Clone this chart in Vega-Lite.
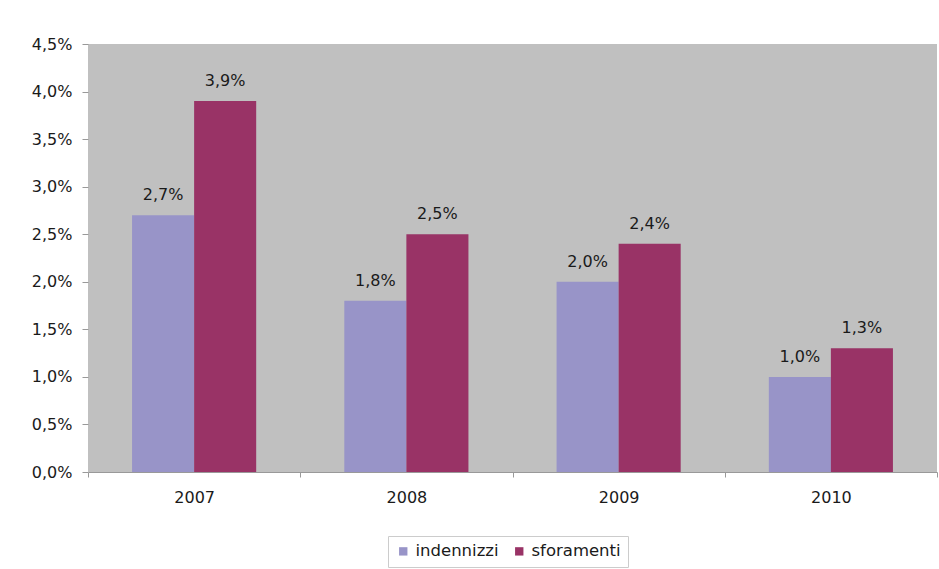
{
  "$schema": "https://vega.github.io/schema/vega-lite/v6.json",
  "autosize": "none",
  "width": 849,
  "height": 428,
  "padding": {"left": 88, "top": 44, "right": 2, "bottom": 97},
  "background": "white",
  "config": {
    "locale": {"number": {"decimal": ",", "thousands": ".", "grouping": [3], "currency": ["€", ""]}},
    "view": {"fill": "#c0c0c0", "stroke": null},
    "font": "DejaVu Sans"
  },
  "data": {
    "values": [
      {"anno": "2007", "serie": "indennizzi", "valore": 0.027},
      {"anno": "2007", "serie": "sforamenti", "valore": 0.039},
      {"anno": "2008", "serie": "indennizzi", "valore": 0.018},
      {"anno": "2008", "serie": "sforamenti", "valore": 0.025},
      {"anno": "2009", "serie": "indennizzi", "valore": 0.020},
      {"anno": "2009", "serie": "sforamenti", "valore": 0.024},
      {"anno": "2010", "serie": "indennizzi", "valore": 0.010},
      {"anno": "2010", "serie": "sforamenti", "valore": 0.013}
    ]
  },
  "encoding": {
    "x": {
      "field": "anno", "type": "nominal",
      "scale": {"paddingInner": 0, "paddingOuter": 0},
      "axis": {
        "title": null, "labelAngle": 0, "labelFontSize": 16, "labelColor": "#1a1a1a",
        "labelPadding": 12, "tickBand": "extent", "tickColor": "#999", "tickSize": 5,
        "domainColor": "#999", "domainWidth": 1
      }
    },
    "xOffset": {
      "field": "serie", "type": "nominal",
      "scale": {"paddingInner": 0, "paddingOuter": 0.71}
    },
    "y": {
      "field": "valore", "type": "quantitative",
      "scale": {"domain": [0, 0.045], "nice": false},
      "axis": {
        "title": null, "format": ".1%", "values": [0, 0.005, 0.01, 0.015, 0.02, 0.025, 0.03, 0.035, 0.04, 0.045],
        "labelFontSize": 16, "labelColor": "#1a1a1a", "labelPadding": 10, "grid": false,
        "tickColor": "#999", "tickSize": 6, "domain": false
      }
    }
  },
  "layer": [
    {
      "mark": {"type": "bar"},
      "encoding": {
        "color": {
          "field": "serie", "type": "nominal",
          "scale": {"domain": ["indennizzi", "sforamenti"], "range": ["#9894c8", "#993366"]},
          "legend": {
            "title": null, "orient": "none", "legendX": 300, "legendY": 492,
            "direction": "horizontal",
            "symbolType": "square", "symbolSize": 70, "symbolStrokeWidth": 0,
            "labelFontSize": 16.5, "labelColor": "#1a1a1a", "columnPadding": 12,
            "strokeColor": "#ccc", "padding": 7
          }
        }
      }
    },
    {
      "mark": {"type": "text", "dy": -20, "fontSize": 16, "color": "#1a1a1a"},
      "encoding": {
        "text": {"field": "valore", "type": "quantitative", "format": ".1%"}
      }
    }
  ]
}
